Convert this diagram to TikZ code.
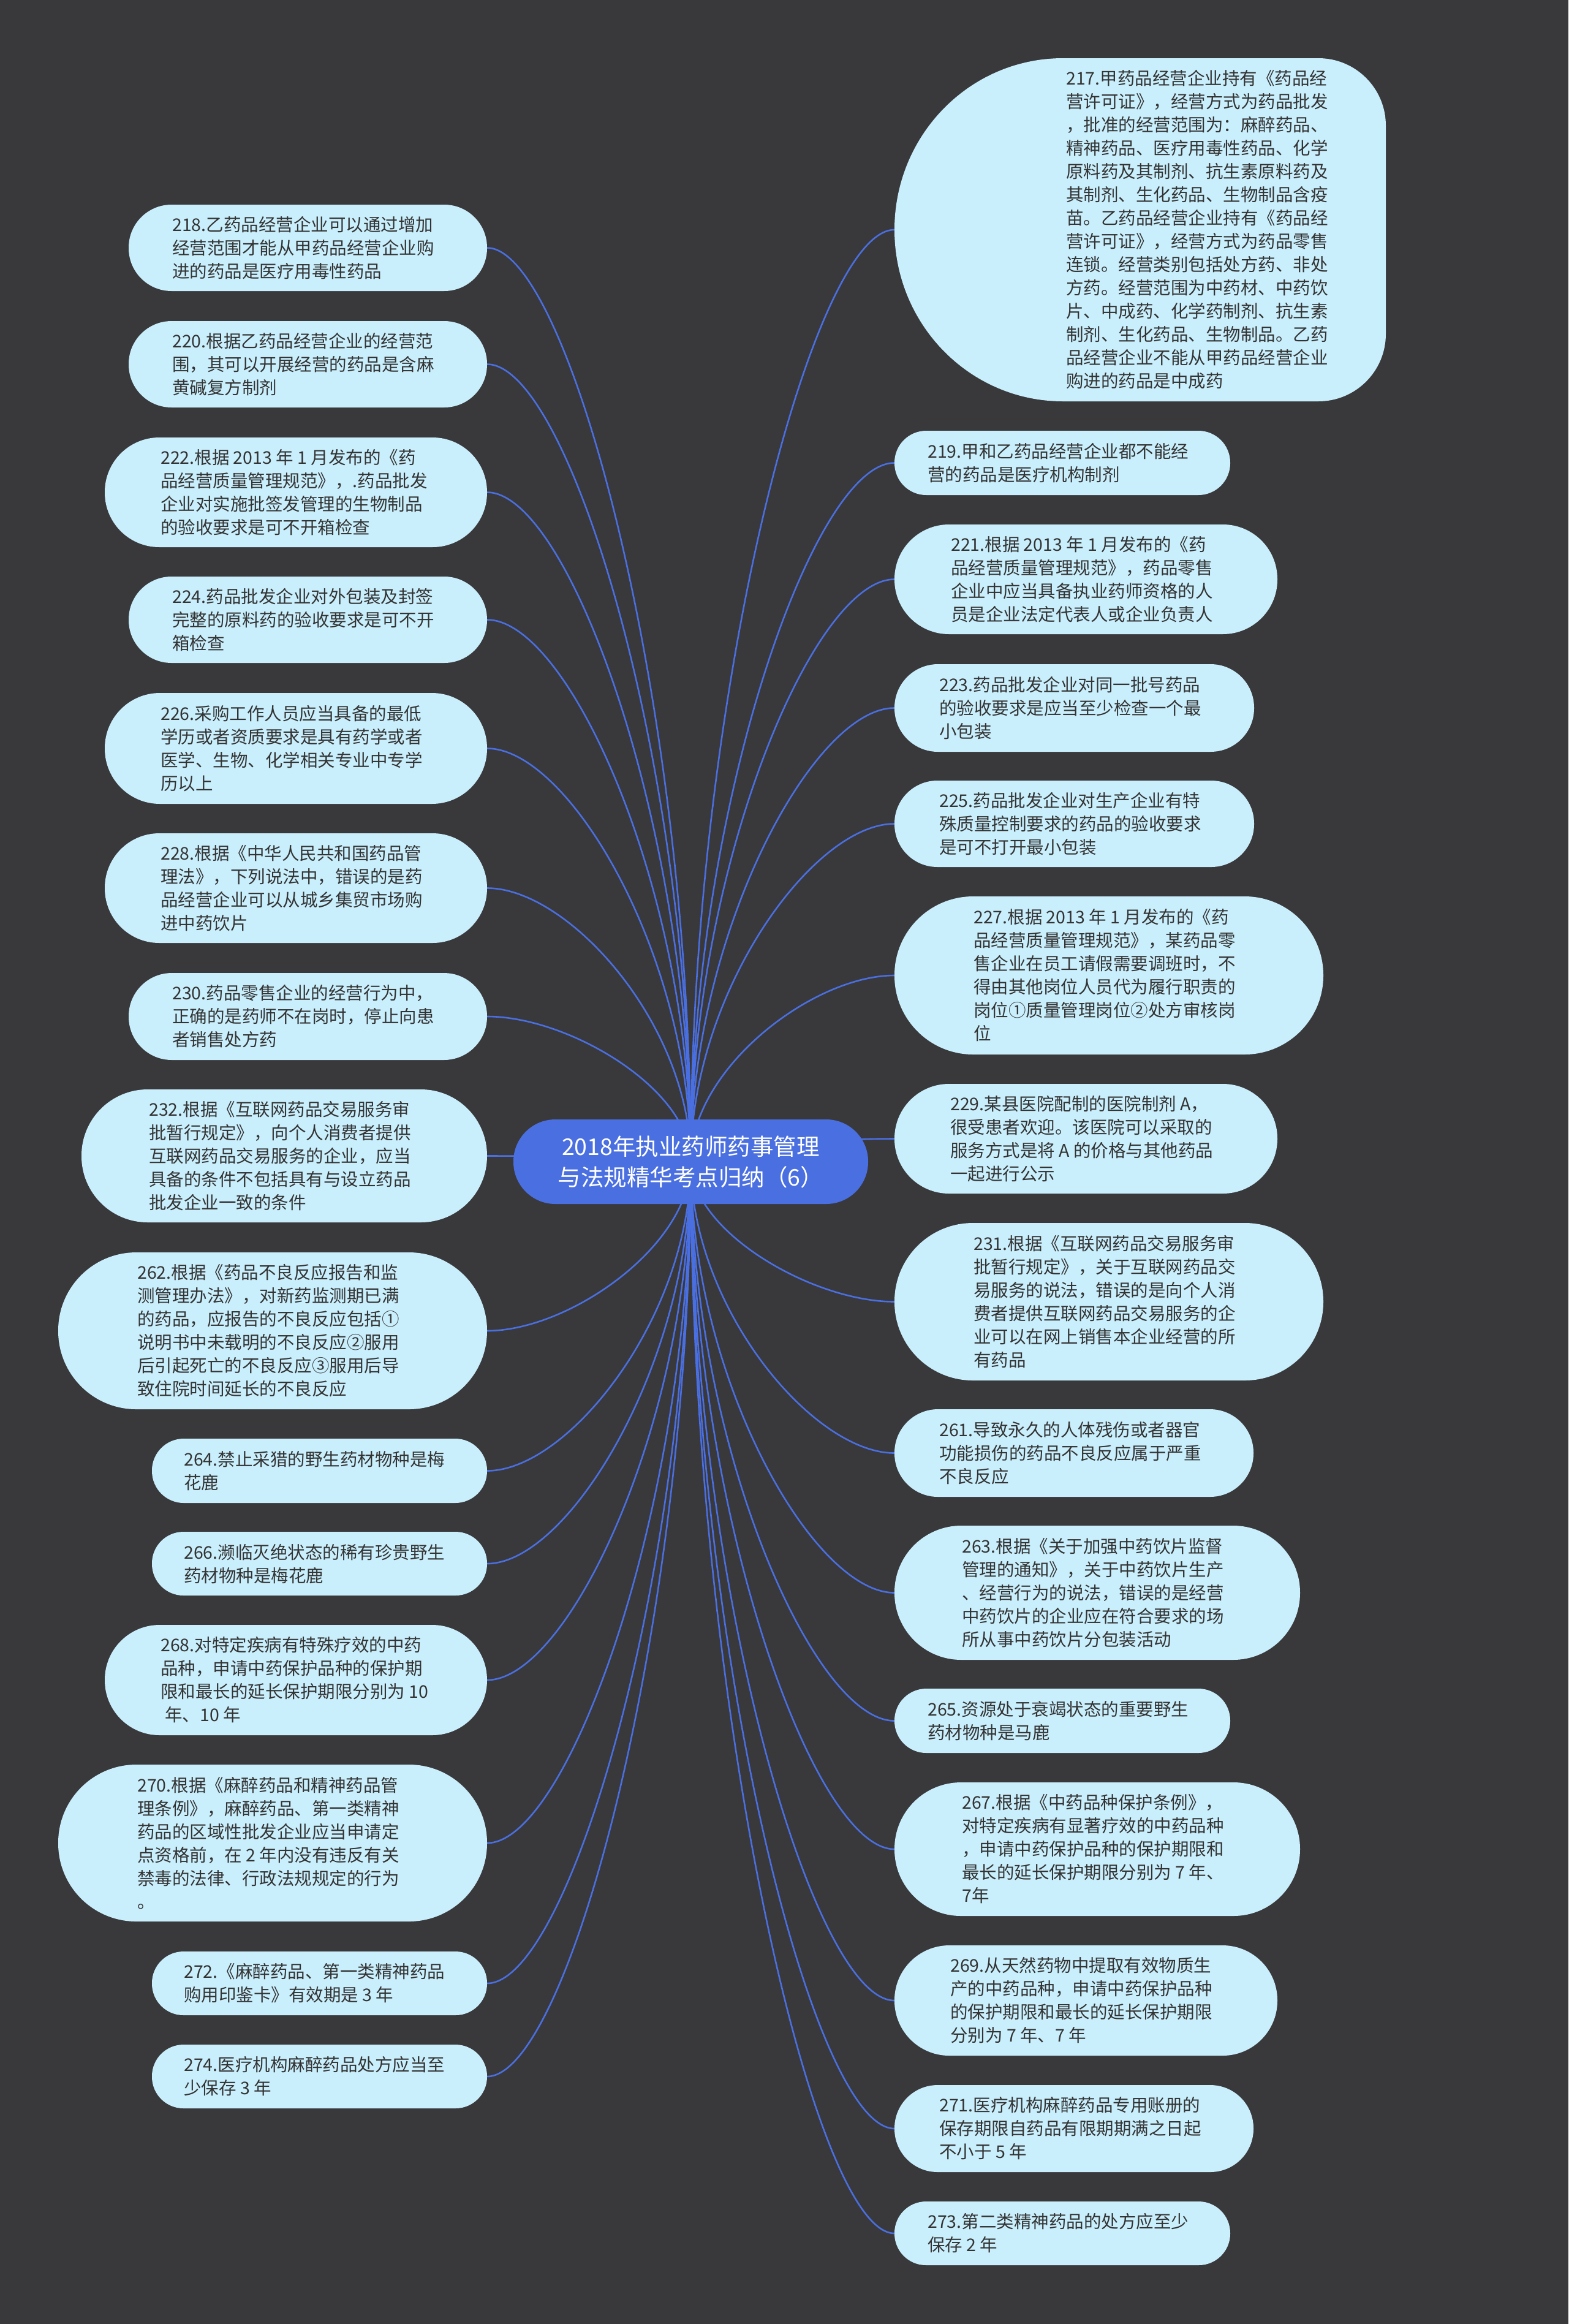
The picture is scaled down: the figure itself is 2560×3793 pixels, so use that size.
\documentclass[tikz,border=0pt]{standalone}
\usepackage{fontspec}
\newfontfamily\cjk{Noto Sans CJK SC}
\usetikzlibrary{calc}
\definecolor{bgc}{HTML}{39383B}
\definecolor{leafc}{HTML}{C9EEFC}
\definecolor{txtc}{HTML}{333333}
\definecolor{rootc}{HTML}{4A6FE0}
\definecolor{edgec}{HTML}{4A6FE0}
\pgfdeclarelayer{background}
\pgfdeclarelayer{edgelayer}
\pgfsetlayers{background,edgelayer,main}
\tikzset{
  leafbox/.style={draw=none, fill=leafc, inner sep=0pt, rectangle},
  leaftext/.style={font=\cjk\fontsize{28.5}{38}\selectfont, text=txtc, align=left, inner sep=0pt},
  rootbox/.style={fill=rootc, text=white, font=\cjk\fontsize{37.5}{50}\selectfont, align=center, inner sep=0pt},
  edge/.style={draw=edgec, line width=2.6pt}
}
\newcommand\mkleaf[7]{%
  \node[leafbox, minimum width={(#3)-(#2)}, minimum height={(#5)-(#4)}, rounded corners={((#5)-(#4))/2-0.5}] (#1) at ({((#2)+(#3))/2},{-((#4)+(#5))/2}) {};
  \node[leaftext, anchor=west] (t#1) at (#6,{-((#4)+(#5))/2}) {#7};}
\newcommand\mklink[1]{%
  \draw[edge] (root.center) .. controls ($(root.center)!0.5!(root.center|-#1)$) and ($(root.center|-#1)!0.6!(#1)$) .. (#1);}
\begin{document}
\begin{tikzpicture}[x=1pt,y=1pt]
\begin{pgfonlayer}{background}
\fill[bgc] (0,0) rectangle (2560,-3793);
\end{pgfonlayer}
\useasboundingbox (0,0) rectangle (2560,-3793);

\node[rootbox, minimum width=579, minimum height=138, rounded corners=68.5] (root) at (1127.5,-1896) {2018年执业药师药事管理\\与法规精华考点归纳（6）};

% right column
% big node 217: wide rounded left side, tighter right corners
\node[draw=none, fill=none, inner sep=0pt, minimum width=802, minimum height=560] (n217) at (1861,-375) {};
\fill[leafc] (1735,-95) -- (2152,-95) arc[start angle=90, end angle=0, radius=110] -- (2262,-545) arc[start angle=0, end angle=-90, radius=110] -- (1735,-655) arc[start angle=270, end angle=90, x radius=275, y radius=280] -- cycle;
\node[leaftext, anchor=west] (tn217) at (1740,-375) {217.甲药品经营企业持有《药品经\\营许可证》，经营方式为药品批发\\，批准的经营范围为：麻醉药品、\\精神药品、医疗用毒性药品、化学\\原料药及其制剂、抗生素原料药及\\其制剂、生化药品、生物制品含疫\\苗。乙药品经营企业持有《药品经\\营许可证》，经营方式为药品零售\\连锁。经营类别包括处方药、非处\\方药。经营范围为中药材、中药饮\\片、中成药、化学药制剂、抗生素\\制剂、生化药品、生物制品。乙药\\品经营企业不能从甲药品经营企业\\购进的药品是中成药};
\mkleaf{n219}{1460}{2008}{703}{808}{1514}{219.甲和乙药品经营企业都不能经\\营的药品是医疗机构制剂}
\mkleaf{n221}{1460}{2085}{856}{1035}{1552}{221.根据 2013 年 1 月发布的《药\\品经营质量管理规范》，药品零售\\企业中应当具备执业药师资格的人\\员是企业法定代表人或企业负责人}
\mkleaf{n223}{1460}{2047}{1084}{1227}{1533}{223.药品批发企业对同一批号药品\\的验收要求是应当至少检查一个最\\小包装}
\mkleaf{n225}{1460}{2047}{1274}{1415}{1533}{225.药品批发企业对生产企业有特\\殊质量控制要求的药品的验收要求\\是可不打开最小包装}
\mkleaf{n227}{1460}{2160}{1463}{1721}{1589}{227.根据 2013 年 1 月发布的《药\\品经营质量管理规范》，某药品零\\售企业在员工请假需要调班时，不\\得由其他岗位人员代为履行职责的\\岗位①质量管理岗位②处方审核岗\\位}
\mkleaf{n229}{1460}{2085}{1769}{1948}{1551}{229.某县医院配制的医院制剂 A，\\很受患者欢迎。该医院可以采取的\\服务方式是将 A 的价格与其他药品\\一起进行公示}
\mkleaf{n231}{1460}{2160}{1996}{2253}{1589}{231.根据《互联网药品交易服务审\\批暂行规定》，关于互联网药品交\\易服务的说法，错误的是向个人消\\费者提供互联网药品交易服务的企\\业可以在网上销售本企业经营的所\\有药品}
\mkleaf{n261}{1460}{2046}{2300}{2443}{1533}{261.导致永久的人体残伤或者器官\\功能损伤的药品不良反应属于严重\\不良反应}
\mkleaf{n263}{1460}{2122}{2490}{2709}{1570}{263.根据《关于加强中药饮片监督\\管理的通知》，关于中药饮片生产\\、经营行为的说法，错误的是经营\\中药饮片的企业应在符合要求的场\\所从事中药饮片分包装活动}
\mkleaf{n265}{1460}{2008}{2756}{2861}{1514}{265.资源处于衰竭状态的重要野生\\药材物种是马鹿}
\mkleaf{n267}{1460}{2122}{2909}{3127}{1570}{267.根据《中药品种保护条例》，\\对特定疾病有显著疗效的中药品种\\，申请中药保护品种的保护期限和\\最长的延长保护期限分别为 7 年、\\7年}
\mkleaf{n269}{1460}{2085}{3175}{3355}{1551}{269.从天然药物中提取有效物质生\\产的中药品种，申请中药保护品种\\的保护期限和最长的延长保护期限\\分别为 7 年、7 年}
\mkleaf{n271}{1460}{2046}{3403}{3545}{1533}{271.医疗机构麻醉药品专用账册的\\保存期限自药品有限期期满之日起\\不小于 5 年}
\mkleaf{n273}{1460}{2008}{3593}{3697}{1514}{273.第二类精神药品的处方应至少\\保存 2 年}

% left column
\mkleaf{n218}{210}{795}{334}{475}{281}{218.乙药品经营企业可以通过增加\\经营范围才能从甲药品经营企业购\\进的药品是医疗用毒性药品}
\mkleaf{n220}{210}{795}{524}{665}{281}{220.根据乙药品经营企业的经营范\\围，其可以开展经营的药品是含麻\\黄碱复方制剂}
\mkleaf{n222}{171}{795}{714}{893}{262}{222.根据 2013 年 1 月发布的《药\\品经营质量管理规范》，.药品批发\\企业对实施批签发管理的生物制品\\的验收要求是可不开箱检查}
\mkleaf{n224}{210}{795}{941}{1082}{281}{224.药品批发企业对外包装及封签\\完整的原料药的验收要求是可不开\\箱检查}
\mkleaf{n226}{171}{795}{1131}{1312}{262}{226.采购工作人员应当具备的最低\\学历或者资质要求是具有药学或者\\医学、生物、化学相关专业中专学\\历以上}
\mkleaf{n228}{171}{795}{1360}{1539}{262}{228.根据《中华人民共和国药品管\\理法》，下列说法中，错误的是药\\品经营企业可以从城乡集贸市场购\\进中药饮片}
\mkleaf{n230}{210}{795}{1588}{1730}{281}{230.药品零售企业的经营行为中，\\正确的是药师不在岗时，停止向患\\者销售处方药}
\mkleaf{n232}{133}{795}{1778}{1995}{243}{232.根据《互联网药品交易服务审\\批暂行规定》，向个人消费者提供\\互联网药品交易服务的企业，应当\\具备的条件不包括具有与设立药品\\批发企业一致的条件}
\mkleaf{n262}{95}{795}{2044}{2300}{224}{262.根据《药品不良反应报告和监\\测管理办法》，对新药监测期已满\\的药品，应报告的不良反应包括①\\说明书中未载明的不良反应②服用\\后引起死亡的不良反应③服用后导\\致住院时间延长的不良反应}
\mkleaf{n264}{248}{795}{2348}{2453}{300}{264.禁止采猎的野生药材物种是梅\\花鹿}
\mkleaf{n266}{248}{795}{2500}{2604}{300}{266.濒临灭绝状态的稀有珍贵野生\\药材物种是梅花鹿}
\mkleaf{n268}{171}{795}{2652}{2832}{262}{268.对特定疾病有特殊疗效的中药\\品种，申请中药保护品种的保护期\\限和最长的延长保护期限分别为 10\\\hspace*{0.25em}年、10 年}
\mkleaf{n270}{95}{795}{2880}{3136}{224}{270.根据《麻醉药品和精神药品管\\理条例》，麻醉药品、第一类精神\\药品的区域性批发企业应当申请定\\点资格前，在 2 年内没有违反有关\\禁毒的法律、行政法规规定的行为\\。}
\mkleaf{n272}{248}{795}{3185}{3289}{300}{272.《麻醉药品、第一类精神药品\\购用印鉴卡》有效期是 3 年}
\mkleaf{n274}{248}{795}{3337}{3441}{300}{274.医疗机构麻醉药品处方应当至\\少保存 3 年}

\begin{pgfonlayer}{edgelayer}
\mklink{n217.west}\mklink{n219.west}\mklink{n221.west}\mklink{n223.west}
\mklink{n225.west}\mklink{n227.west}\mklink{n229.west}\mklink{n231.west}
\mklink{n261.west}\mklink{n263.west}\mklink{n265.west}\mklink{n267.west}
\mklink{n269.west}\mklink{n271.west}\mklink{n273.west}
\mklink{n218.east}\mklink{n220.east}\mklink{n222.east}\mklink{n224.east}
\mklink{n226.east}\mklink{n228.east}\mklink{n230.east}\mklink{n232.east}
\mklink{n262.east}\mklink{n264.east}\mklink{n266.east}\mklink{n268.east}
\mklink{n270.east}\mklink{n272.east}\mklink{n274.east}
\end{pgfonlayer}
\end{tikzpicture}
\end{document}
